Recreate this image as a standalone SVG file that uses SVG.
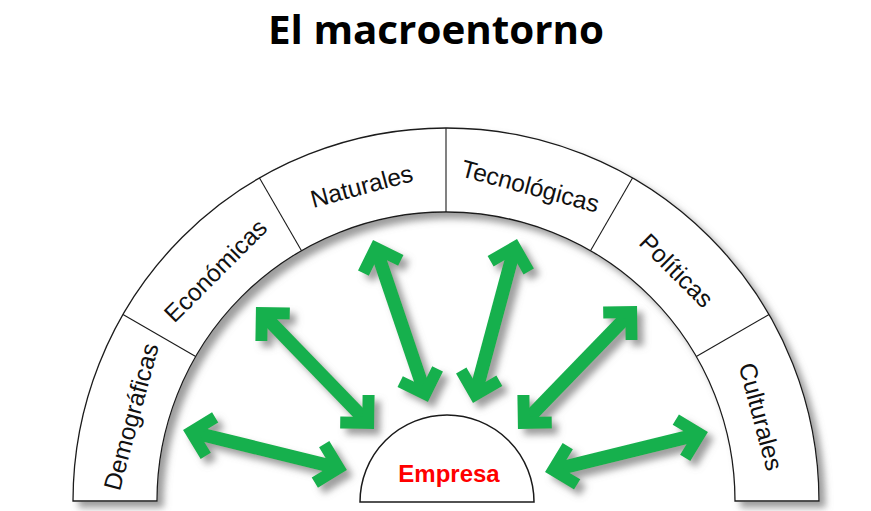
<svg xmlns="http://www.w3.org/2000/svg" width="871" height="511" viewBox="0 0 871 511">
  <style>
    .title { font-family: "Open Sans", "Liberation Sans", sans-serif; font-weight: bold; font-size: 40px; fill: #000; }
    .lbl { font-family: "Liberation Sans", Arial, sans-serif; font-size: 24.5px; fill: #111; text-anchor: middle; dominant-baseline: central; }
    .emp { font-family: "Liberation Sans", Arial, sans-serif; font-weight: bold; font-size: 24px; fill: #ff0000; text-anchor: middle; }
    .band { fill: #fff; stroke: #1a1a1a; stroke-width: 1.3; }
    .div { stroke: #1a1a1a; stroke-width: 1.1; fill: none; }
    .shaft { stroke: #16b04e; stroke-width: 13.5; fill: none; marker-start: url(#head); marker-end: url(#head); }
  </style>
  <defs>
    <filter id="shadow" x="-20%" y="-20%" width="140%" height="140%">
      <feGaussianBlur in="SourceAlpha" stdDeviation="3.5"/>
      <feOffset dx="6" dy="6" result="b"/>
      <feFlood flood-color="#7d7d7d" flood-opacity="0.75"/>
      <feComposite in2="b" operator="in" result="s"/>
      <feMerge><feMergeNode in="s"/><feMergeNode in="SourceGraphic"/></feMerge>
    </filter>
    <marker id="head" viewBox="-40 -40 80 80" markerWidth="80" markerHeight="80" refX="0" refY="0" markerUnits="userSpaceOnUse" orient="auto-start-reverse" overflow="visible">
      <polygon points="12,0 -12,-24 -20.5,-15.5 -5,0 -20.5,15.5 -12,24" fill="#16b04e"/>
    </marker>
  </defs>
  <rect width="871" height="511" fill="#fff"/>
  <text class="title" x="436" y="44" text-anchor="middle" textLength="336" lengthAdjust="spacingAndGlyphs">El macroentorno</text>

  <g id="arch" filter="url(#shadow)">
    <path class="band" d="M 73 501 A 373 373 0 0 1 819 501 L 735 501 A 289 289 0 0 0 157 501 Z"/>
  </g>
  <g id="dividers">
    <line class="div" x1="123.0" y1="314.5" x2="195.7" y2="356.5"/>
    <line class="div" x1="259.5" y1="178.0" x2="301.5" y2="250.7"/>
    <line class="div" x1="446" y1="128" x2="446" y2="212"/>
    <line class="div" x1="632.5" y1="178.0" x2="590.5" y2="250.7"/>
    <line class="div" x1="769.0" y1="314.5" x2="696.3" y2="356.5"/>
  </g>
  <g id="demograficas"><text class="lbl" transform="translate(131.1 416.6) rotate(-75)">Demográficas</text></g>
  <g id="economicas"><text class="lbl" transform="translate(215.5 270.5) rotate(-45)">Económicas</text></g>
  <g id="naturales"><text class="lbl" transform="translate(361.6 186.1) rotate(-15)">Naturales</text></g>
  <g id="tecnologicas"><text class="lbl" transform="translate(530.4 186.1) rotate(15)">Tecnológicas</text></g>
  <g id="politicas"><text class="lbl" transform="translate(676.5 270.5) rotate(45)">Políticas</text></g>
  <g id="culturales"><text class="lbl" transform="translate(760.9 416.6) rotate(75)">Culturales</text></g>

  <g id="empresa">
    <path d="M 360 502 A 87 87 0 0 1 534 502 Z" fill="#fff" stroke="#1a1a1a" stroke-width="1.5"/>
    <text class="emp" x="449" y="482">Empresa</text>
  </g>

  <g id="connectors" filter="url(#shadow)">
    <line class="shaft" x1="194.7" y1="432.8" x2="335.3" y2="467.2"/>
    <line class="shaft" x1="264.3" y1="315.6" x2="365.7" y2="420.4"/>
    <line class="shaft" x1="376.9" y1="251.4" x2="424.1" y2="390.6"/>
    <line class="shaft" x1="513.9" y1="250.6" x2="476.1" y2="391.4"/>
    <line class="shaft" x1="628.7" y1="314.6" x2="526.3" y2="420.4"/>
    <line class="shaft" x1="696.3" y1="434.9" x2="556.7" y2="469.1"/>
  </g>
</svg>
